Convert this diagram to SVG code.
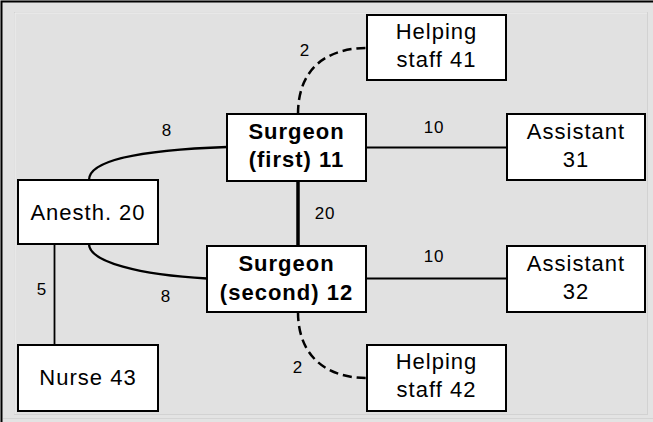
<svg xmlns="http://www.w3.org/2000/svg" width="653" height="422" viewBox="0 0 653 422">
  <style>
    .box { fill: #ffffff; stroke: #000000; stroke-width: 2; }
    .name { font-family: "Liberation Sans", Arial, sans-serif; font-size: 22px; letter-spacing: 1px; text-anchor: middle; fill: #000000; }
    .bold { font-weight: bold; }
    .lbl { font-family: "Liberation Sans", Arial, sans-serif; font-size: 17px; letter-spacing: 0.8px; text-anchor: middle; fill: #000000; }
    .link { fill: none; stroke: #000000; stroke-width: 1.8; }
    .curve { stroke-width: 2.3; }
    .heavy { stroke-width: 3.5; }
    .dash { stroke-width: 2.5; stroke-dasharray: 9 5; }
  </style>

  <!-- backdrop panel -->
  <rect x="0" y="0" width="653" height="422" fill="#e3e3e3"/>
  <path d="M1.5,422 V1.5 H653" fill="none" stroke="#000000" stroke-width="2"/>
  <rect x="14.5" y="12.5" width="633" height="402" fill="#e1e1e1" stroke="#d2d2d2" stroke-width="1"/>
  <path d="M15,414 V13 H647" fill="none" stroke="#efefef" stroke-width="1"/>
  <line x1="3" y1="418.5" x2="653" y2="418.5" stroke="#d4d4d4" stroke-width="1"/>

  <!-- connectors -->
  <g id="connectors">
    <path class="link" d="M366,147.5 H507"/>
    <path class="link" d="M366,278.5 H507"/>
    <path class="link heavy" d="M298,181 V246"/>
    <path class="link" d="M54.5,244 V345"/>
    <path class="link curve" d="M89,180 C89,160 140,150 227,147"/>
    <path class="link curve" d="M89,244 C89,262 140,275 207,278.5"/>
    <path class="link dash" d="M298,114 C298,70 325,48 367,48"/>
    <path class="link dash" d="M298,312 C298,355 325,378 367,378"/>

    <text class="lbl" x="305" y="56">2</text>
    <text class="lbl" x="167" y="136">8</text>
    <text class="lbl" x="434" y="133">10</text>
    <text class="lbl" x="325" y="219">20</text>
    <text class="lbl" x="434" y="262">10</text>
    <text class="lbl" x="166" y="302">8</text>
    <text class="lbl" x="42" y="295">5</text>
    <text class="lbl" x="298" y="373">2</text>
  </g>

  <!-- nodes -->
  <g id="helping41">
    <rect class="box" x="367" y="15" width="139" height="65"/>
    <text class="name" x="436.5" y="38.5">Helping</text>
    <text class="name" x="436.5" y="67">staff 41</text>
  </g>
  <g id="surgeon11">
    <rect class="box" x="227" y="114" width="139" height="67"/>
    <text class="name bold" x="296.5" y="138.5">Surgeon</text>
    <text class="name bold" x="296.5" y="167">(first) 11</text>
  </g>
  <g id="assistant31">
    <rect class="box" x="507" y="114" width="138" height="66"/>
    <text class="name" x="576" y="138.5">Assistant</text>
    <text class="name" x="576" y="167">31</text>
  </g>
  <g id="anesth20">
    <rect class="box" x="18" y="180" width="140" height="64"/>
    <text class="name" x="88" y="220">Anesth. 20</text>
  </g>
  <g id="surgeon12">
    <rect class="box" x="207" y="246" width="159" height="66"/>
    <text class="name bold" x="286.5" y="271">Surgeon</text>
    <text class="name bold" x="286.5" y="299.5">(second) 12</text>
  </g>
  <g id="assistant32">
    <rect class="box" x="507" y="246" width="138" height="66"/>
    <text class="name" x="576" y="270.5">Assistant</text>
    <text class="name" x="576" y="299">32</text>
  </g>
  <g id="nurse43">
    <rect class="box" x="18" y="345" width="140" height="66"/>
    <text class="name" x="88" y="385">Nurse 43</text>
  </g>
  <g id="helping42">
    <rect class="box" x="367" y="345" width="139" height="66"/>
    <text class="name" x="436.5" y="368.5">Helping</text>
    <text class="name" x="436.5" y="397">staff 42</text>
  </g>
</svg>
